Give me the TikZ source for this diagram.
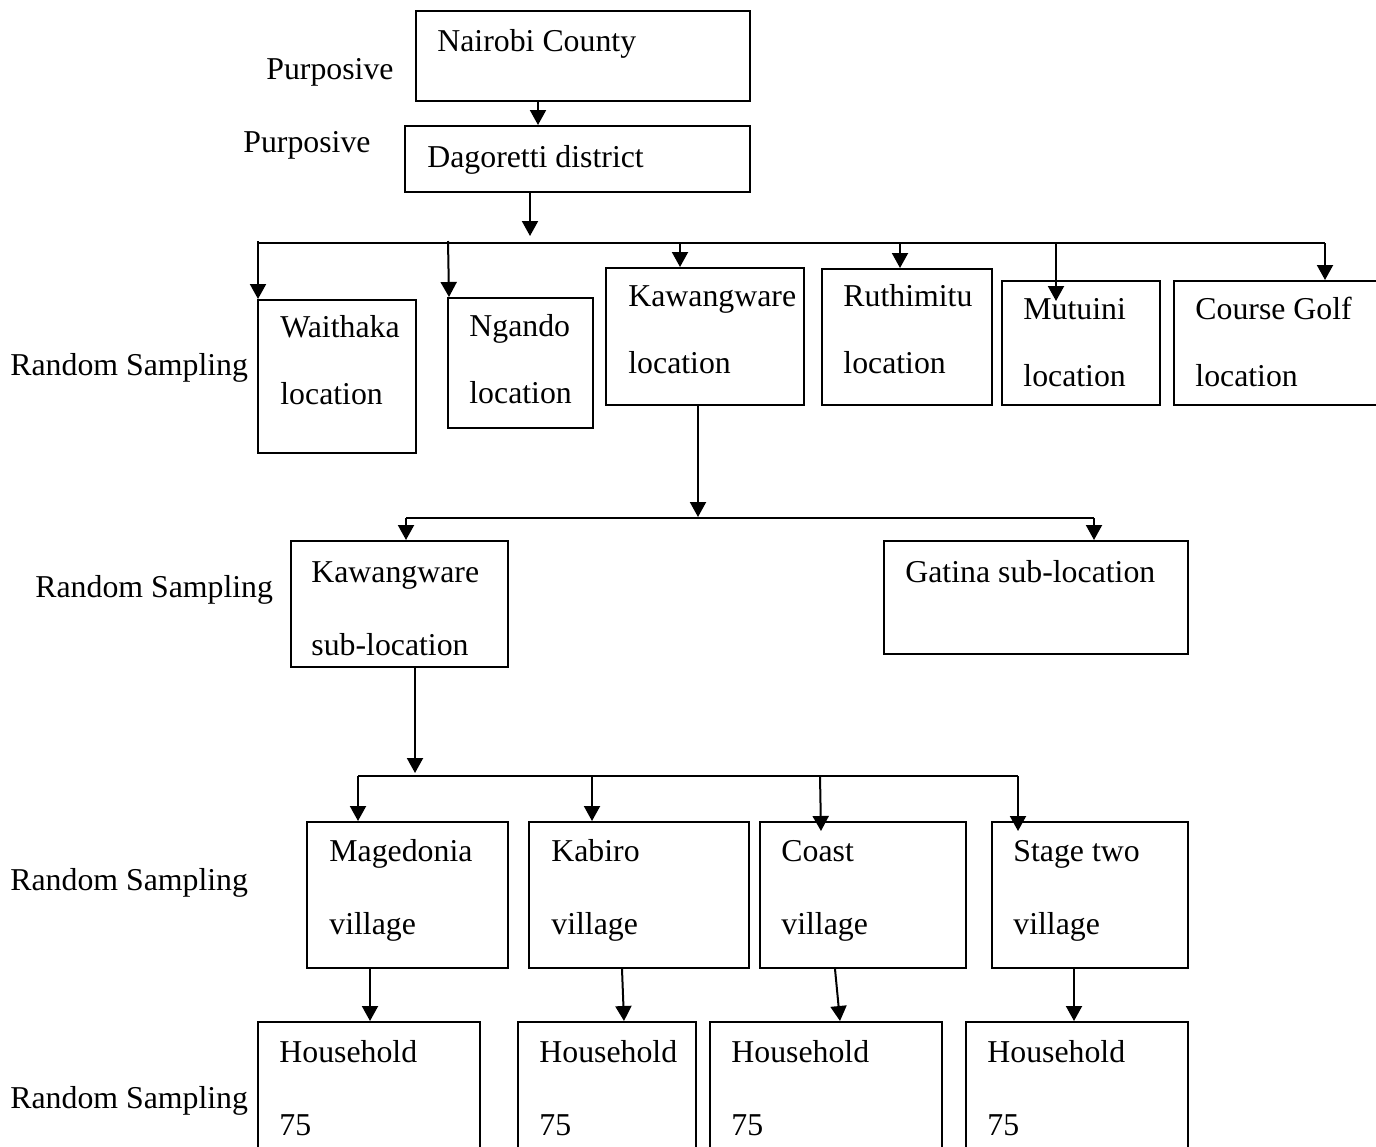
\documentclass[tikz,border=0pt]{standalone}
\usepackage{fontspec}
\setmainfont{Liberation Serif}
\usetikzlibrary{arrows.meta,fit}
\begin{document}
\begin{tikzpicture}[x=0.5pt,y=-0.5pt,
  box/.style={draw, line width=1pt, inner sep=0pt},
  lbl/.style={anchor=base west, inner sep=0pt, font=\fontsize{15.9}{19}\selectfont},
  arr/.style={line width=1pt, -{Triangle[length=7.5pt,width=8pt]}},
  ln/.style={line width=1pt}]
\useasboundingbox (0,0) rectangle (1376,1146);
\clip (0,0) rectangle (1376,1146);

% ---------- boxes ----------
\node[box, fit={(416,11) (750,101)}] (nairobi) {};
\node[box, fit={(405,126) (750,192)}] (dag) {};
\node[box, fit={(258,300) (416,453)}] (waithaka) {};
\node[box, fit={(448,298) (593,428)}] (ngando) {};
\node[box, fit={(606,268) (804,405)}] (kawloc) {};
\node[box, fit={(822,269) (992,405)}] (ruth) {};
\node[box, fit={(1002,281) (1160,405)}] (mutuini) {};
\node[box, fit={(1174,281) (1400,405)}] (golf) {};
\node[box, fit={(291,541) (508,667)}] (kawsub) {};
\node[box, fit={(884,541) (1188,654)}] (gatina) {};
\node[box, fit={(307,822) (508,968)}] (mage) {};
\node[box, fit={(529,822) (749,968)}] (kabiro) {};
\node[box, fit={(760,822) (966,968)}] (coast) {};
\node[box, fit={(992,822) (1188,968)}] (stage) {};
\node[box, fit={(258,1022) (480,1180)}] (h1) {};
\node[box, fit={(518,1022) (696,1180)}] (h2) {};
\node[box, fit={(710,1022) (942,1180)}] (h3) {};
\node[box, fit={(966,1022) (1188,1180)}] (h4) {};

% ---------- texts in boxes ----------
\node[lbl] (tnairobi) at (437,51) {Nairobi County};
\node[lbl] (tdag) at (427,167) {Dagoretti district};
\node[lbl] (twa1) at (280,337) {Waithaka};
\node[lbl] (twa2) at (280,404) {location};
\node[lbl] (tng1) at (469,336) {Ngando};
\node[lbl] (tng2) at (469,403) {location};
\node[lbl] (tkl1) at (628,306) {Kawangware};
\node[lbl] (tkl2) at (628,373) {location};
\node[lbl] (tru1) at (843,306) {Ruthimitu};
\node[lbl] (tru2) at (843,373) {location};
\node[lbl] (tmu1) at (1023,319) {Mutuini};
\node[lbl] (tmu2) at (1023,386) {location};
\node[lbl] (tgo1) at (1195,319) {Course Golf};
\node[lbl] (tgo2) at (1195,386) {location};
\node[lbl] (tks1) at (311,582) {Kawangware};
\node[lbl] (tks2) at (311,655) {sub-location};
\node[lbl] (tga) at (905,582) {Gatina sub-location};
\node[lbl] (tma1) at (329,861) {Magedonia};
\node[lbl] (tma2) at (329,934) {village};
\node[lbl] (tka1) at (551,861) {Kabiro};
\node[lbl] (tka2) at (551,934) {village};
\node[lbl] (tco1) at (781,861) {Coast};
\node[lbl] (tco2) at (781,934) {village};
\node[lbl] (tst1) at (1013,861) {Stage two};
\node[lbl] (tst2) at (1013,934) {village};
\node[lbl] (th1a) at (279,1062) {Household};
\node[lbl] (th1b) at (279,1135) {75};
\node[lbl] (th2a) at (539,1062) {Household};
\node[lbl] (th2b) at (539,1135) {75};
\node[lbl] (th3a) at (731,1062) {Household};
\node[lbl] (th3b) at (731,1135) {75};
\node[lbl] (th4a) at (987,1062) {Household};
\node[lbl] (th4b) at (987,1135) {75};

% ---------- side labels ----------
\node[lbl] (p1) at (266,79) {Purposive};
\node[lbl] (p2) at (243,152) {Purposive};
\node[lbl] (r1) at (10,375) {Random Sampling};
\node[lbl] (r2) at (35,597) {Random Sampling};
\node[lbl] (r3) at (10,890) {Random Sampling};
\node[lbl] (r4) at (10,1108) {Random Sampling};

% ---------- coordinates ----------
\coordinate (xa) at (538,0);
\coordinate (xb) at (530,0);
\coordinate (tipb) at (530,236);
\coordinate (barL) at (258,243);
\coordinate (barR) at (1325,243);
\coordinate (sw) at (258,241);
\coordinate (sn) at (448,241);
\coordinate (en) at (449,0);
\coordinate (sk) at (680,243);
\coordinate (sr) at (900,243);
\coordinate (sm) at (1056,243);
\coordinate (em) at (1056,301);
\coordinate (xk2) at (698,0);
\coordinate (tipk2) at (698,517);
\coordinate (bar2L) at (406,518);
\coordinate (bar2R) at (1094,518);
\coordinate (xs) at (415,0);
\coordinate (tips) at (415,773);
\coordinate (bar3L) at (358,776);
\coordinate (bar3R) at (1018,776);
\coordinate (s3b) at (592,776);
\coordinate (s3c) at (820,776);
\coordinate (e3c) at (821,831);
\coordinate (e3d) at (1018,831);
\coordinate (x4a) at (370,0);
\coordinate (x4b1) at (622,0);
\coordinate (x4b2) at (624,0);
\coordinate (x4c1) at (835,0);
\coordinate (x4c2) at (840,0);
\coordinate (x4d) at (1074,0);

% ---------- connectors ----------
\draw[arr] (nairobi.south -| xa) -- (dag.north -| xa);
\draw[arr] (dag.south -| xb) -- (tipb);
\draw[ln] (barL) -- (barR);
\draw[arr] (sw) -- (waithaka.north -| sw);
\draw[arr] (sn) -- (ngando.north -| en);
\draw[arr] (sk) -- (kawloc.north -| sk);
\draw[arr] (sr) -- (ruth.north -| sr);
\draw[arr] (sm) -- (em);
\draw[arr] (barR) -- (golf.north -| barR);

\draw[arr] (kawloc.south -| xk2) -- (tipk2);
\draw[ln] (bar2L) -- (bar2R);
\draw[arr] (bar2L) -- (kawsub.north -| bar2L);
\draw[arr] (bar2R) -- (gatina.north -| bar2R);

\draw[arr] (kawsub.south -| xs) -- (tips);
\draw[ln] (bar3L) -- (bar3R);
\draw[arr] (bar3L) -- (mage.north -| bar3L);
\draw[arr] (s3b) -- (kabiro.north -| s3b);
\draw[arr] (s3c) -- (e3c);
\draw[arr] (bar3R) -- (e3d);

\draw[arr] (mage.south -| x4a) -- (h1.north -| x4a);
\draw[arr] (kabiro.south -| x4b1) -- (h2.north -| x4b2);
\draw[arr] (coast.south -| x4c1) -- (h3.north -| x4c2);
\draw[arr] (stage.south -| x4d) -- (h4.north -| x4d);
\end{tikzpicture}
\end{document}
